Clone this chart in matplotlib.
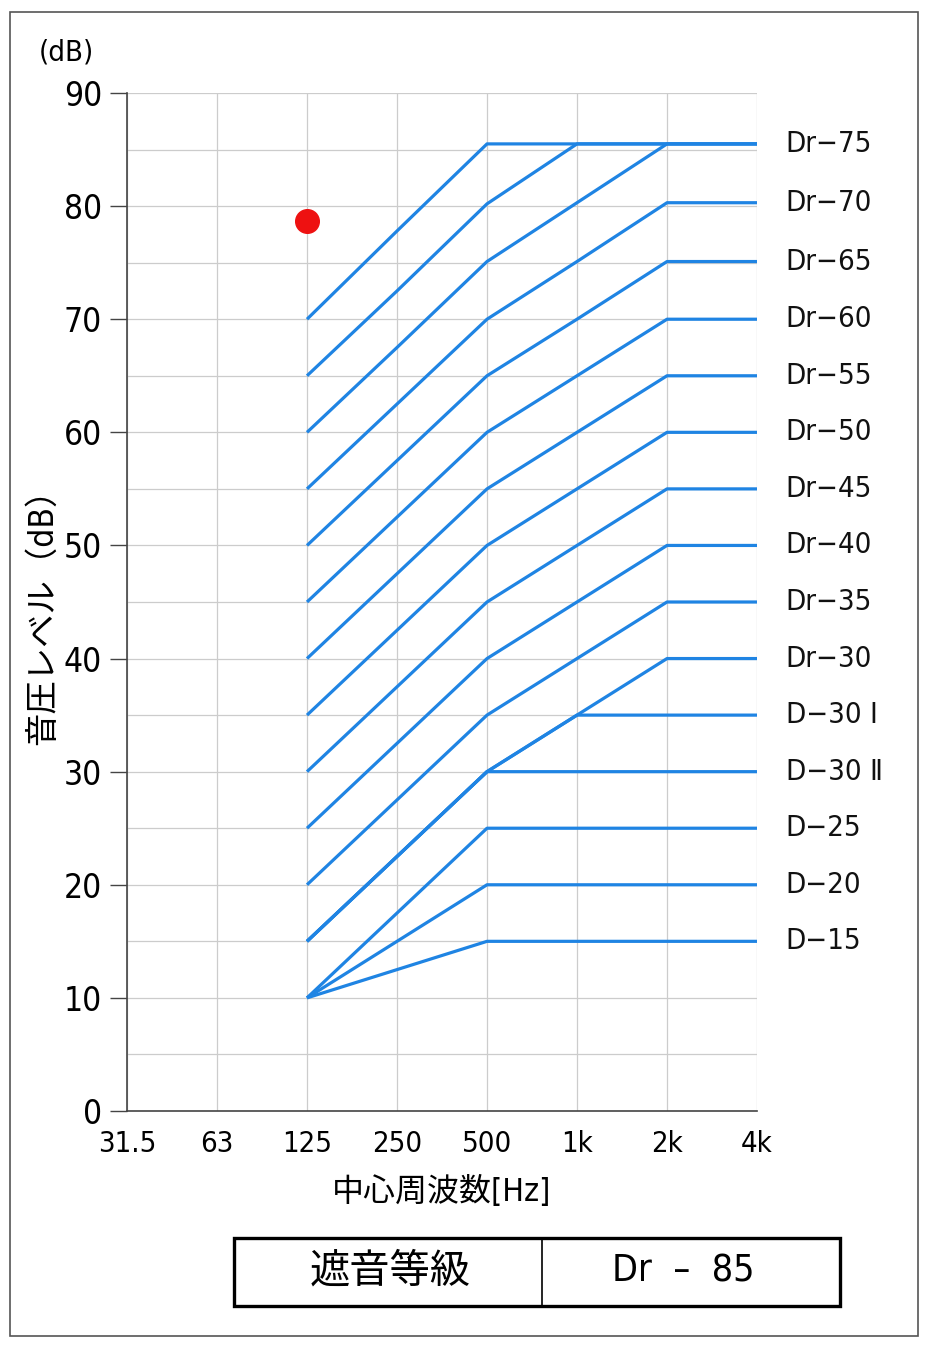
import numpy as np
import matplotlib
matplotlib.use('Agg')
from matplotlib import pyplot as plt
from matplotlib.patches import Rectangle
from matplotlib.lines import Line2D

plt.rcParams['font.family'] = ['DejaVu Sans', 'Noto Sans CJK JP']
plt.rcParams['font.stretch'] = 'condensed'

# 中心周波数
freq_labels = ['31.5', '63', '125', '250', '500', '1k', '2k', '4k']
curve_freq_idx = [2, 3, 4, 5, 6, 7]   # 125 .. 4k

# 各曲線の値 (125, 250, 500, 1k, 2k, 4k)
curve_values = [
    [70, 77.8, 85.5, 85.5, 85.5, 85.5],
    [65, 72.5, 80.2, 85.5, 85.5, 85.5],
    [60, 67.5, 75.1, 80.3, 85.5, 85.5],
    [55, 62.5, 70, 75.1, 80.3, 80.3],
    [50, 57.5, 65, 70, 75.1, 75.1],
    [45, 52.5, 60, 65, 70, 70],
    [40, 47.5, 55, 60, 65, 65],
    [35, 42.5, 50, 55, 60, 60],
    [30, 37.5, 45, 50, 55, 55],
    [25, 32.5, 40, 45, 50, 50],
    [20, 27.5, 35, 40, 45, 45],
    [15, 22.5, 30, 35, 40, 40],
    [15, 22.5, 30, 35, 35, 35],
    [15, 22.5, 30, 30, 30, 30],
    [10, 17.5, 25, 25, 25, 25],
    [10, 15, 20, 20, 20, 20],
    [10, 12.5, 15, 15, 15, 15],
]
curve_labels = ['', '', 'Dr\u221275', 'Dr\u221270', 'Dr\u221265', 'Dr\u221260', 'Dr\u221255',
                'Dr\u221250', 'Dr\u221245', 'Dr\u221240', 'Dr\u221235', 'Dr\u221230',
                'D\u221230 \u2160', 'D\u221230 \u2161', 'D\u221225', 'D\u221220', 'D\u221215']

# 測定値
meas_idx = 2        # 125Hz
meas_value = 78.7

rating_title = '遮音等級'
rating_value = 'Dr  \u2013  85'

blue = '#1f84e3'

fig = plt.figure(figsize=(9.29, 13.5), dpi=100)
ax = fig.add_axes([127/929, 1 - 1111/1350, (757-127)/929, (1111-93)/1350])

for vals, lab in zip(curve_values, curve_labels):
    ax.plot(curve_freq_idx, vals, color=blue, lw=2.3, solid_capstyle='butt', zorder=3)
    if lab:
        ax.text(7.32, vals[-1], lab, fontsize=21, va='center', ha='left',
                clip_on=False, color='#111111')

ax.plot([meas_idx], [meas_value], 'o', color='#ee1111', ms=17, zorder=4)

ax.set_xlim(0, 7)
ax.set_ylim(0, 90)
ax.set_xticks(range(len(freq_labels)))
ax.set_xticklabels(freq_labels, fontsize=21)
ax.set_yticks(np.arange(0, 91, 10))
ax.set_yticks(np.arange(5, 90, 10), minor=True)
ax.tick_params(axis='y', which='major', length=12, width=1, color='#444444',
               labelsize=24, pad=6)
ax.tick_params(axis='y', which='minor', length=0)
ax.tick_params(axis='x', length=0, pad=14)
ax.grid(True, which='both', color='#cccccc', lw=0.9)
ax.set_axisbelow(True)
for s in ['top', 'right']:
    ax.spines[s].set_visible(False)
for s in ['left', 'bottom']:
    ax.spines[s].set_color('#444444')
    ax.spines[s].set_linewidth(1.2)
ax.spines['bottom'].set_zorder(5)

ax.set_xlabel('中心周波数[Hz]', fontsize=23, labelpad=13)
fig.text(43/929, 1 - 608/1350, '音圧レベル（dB）', rotation=90, fontsize=24,
         ha='center', va='center')
fig.text(66/929, 1 - 52/1350, '(dB)', fontsize=21, ha='center', va='center')

# 外枠
fig.patches.append(Rectangle((10/929, 1 - 1336/1350), 908/929, 1324/1350,
                             transform=fig.transFigure, fill=False,
                             edgecolor='#555555', lw=1.2))

# 遮音等級の表
tx0, tx1 = 234/929, 840/929
ty0, ty1 = 1 - 1306/1350, 1 - 1238/1350
fig.patches.append(Rectangle((tx0, ty0), tx1 - tx0, ty1 - ty0,
                             transform=fig.transFigure, fill=False,
                             edgecolor='black', lw=2.4))
fig.lines.append(Line2D([542/929, 542/929], [ty0, ty1], transform=fig.transFigure,
                        color='black', lw=1.2))
fig.text(390/929, (ty0 + ty1)/2, rating_title, fontsize=29, ha='center', va='center')
fig.text(683/929, (ty0 + ty1)/2, rating_value, fontsize=27, ha='center', va='center')

fig.savefig('out.png', dpi=100, facecolor='white')
